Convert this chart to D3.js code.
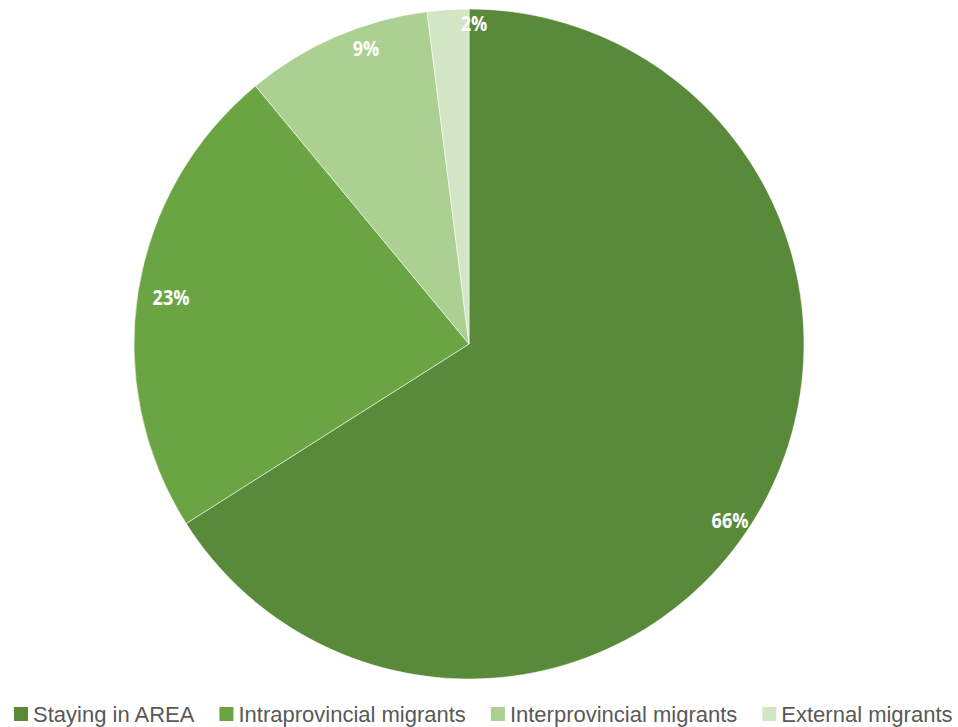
<!DOCTYPE html>
<html>
<head>
<meta charset="utf-8">
<script src="https://cdn.jsdelivr.net/npm/d3@7/dist/d3.min.js"></script>
<style>
  html, body { margin: 0; padding: 0; background: #ffffff; }
  svg { display: block; }
</style>
</head>
<body>
<svg id="chart" width="958" height="727"></svg>
<script>
// Population groups and their share (%)
const categories = ["Staying in AREA", "Intraprovincial migrants", "Interprovincial migrants", "External migrants"];
const shares = [66, 23, 9, 2];
const sliceColors = ["#588a3a", "#6aa443", "#abd091", "#d2e6c6"];

const width = 958, height = 727;
const cx = 469, cy = 344, radius = 335;

// Label layout: distance from centre (fraction of radius) and angular nudge (degrees)
const labelRadiusFrac = [0.94, 0.90, 0.935, 0.958];
const labelNudgeDeg = [5.2, -0.2, 4.2, 4.5];

const svg = d3.select("#chart");

const data = categories.map((c, i) => ({ name: c, value: shares[i], color: sliceColors[i] }));

const pie = d3.pie().value(d => d.value).sort(null);
const arcs = pie(data);
const arc = d3.arc().innerRadius(0).outerRadius(radius);

const g = svg.append("g").attr("transform", `translate(${cx},${cy})`);

g.selectAll("path.slice")
  .data(arcs)
  .enter().append("path")
  .attr("class", "slice")
  .attr("d", arc)
  .attr("fill", d => d.data.color)
  .attr("stroke", "rgba(255,255,255,0.55)")
  .attr("stroke-width", 1);

// Percentage labels near the outer end of each slice
g.selectAll("text.pct")
  .data(arcs)
  .enter().append("text")
  .attr("class", "pct")
  .attr("transform", (d, i) => {
    const a = (d.startAngle + d.endAngle) / 2 + labelNudgeDeg[i] * Math.PI / 180;
    const r = radius * labelRadiusFrac[i];
    return `translate(${r * Math.sin(a)},${-r * Math.cos(a)}) scale(0.86,1)`;
  })
  .attr("text-anchor", "middle")
  .attr("dy", "0.36em")
  .attr("fill", "#ffffff")
  .attr("font-family", "'Open Sans', 'DejaVu Sans', sans-serif")
  .attr("font-weight", "bold")
  .attr("font-size", 21)
  .text(d => d.data.value + "%");

// Legend along the bottom
const legend = svg.append("g").attr("class", "legend");
const legendY = 714;
let lx = 14;
data.forEach((d, i) => {
  const item = legend.append("g");
  item.append("rect")
    .attr("x", lx).attr("y", legendY - 7)
    .attr("width", 14).attr("height", 14)
    .attr("fill", d.color);
  const t = item.append("text")
    .attr("x", lx + 19).attr("y", legendY)
    .attr("dy", "0.35em")
    .attr("fill", "#595959")
    .attr("font-family", "'Liberation Sans', Arial, sans-serif")
    .attr("font-size", 22)
    .text(d.name);
  lx += 19 + t.node().getComputedTextLength() + 25;
});
</script>
</body>
</html>
